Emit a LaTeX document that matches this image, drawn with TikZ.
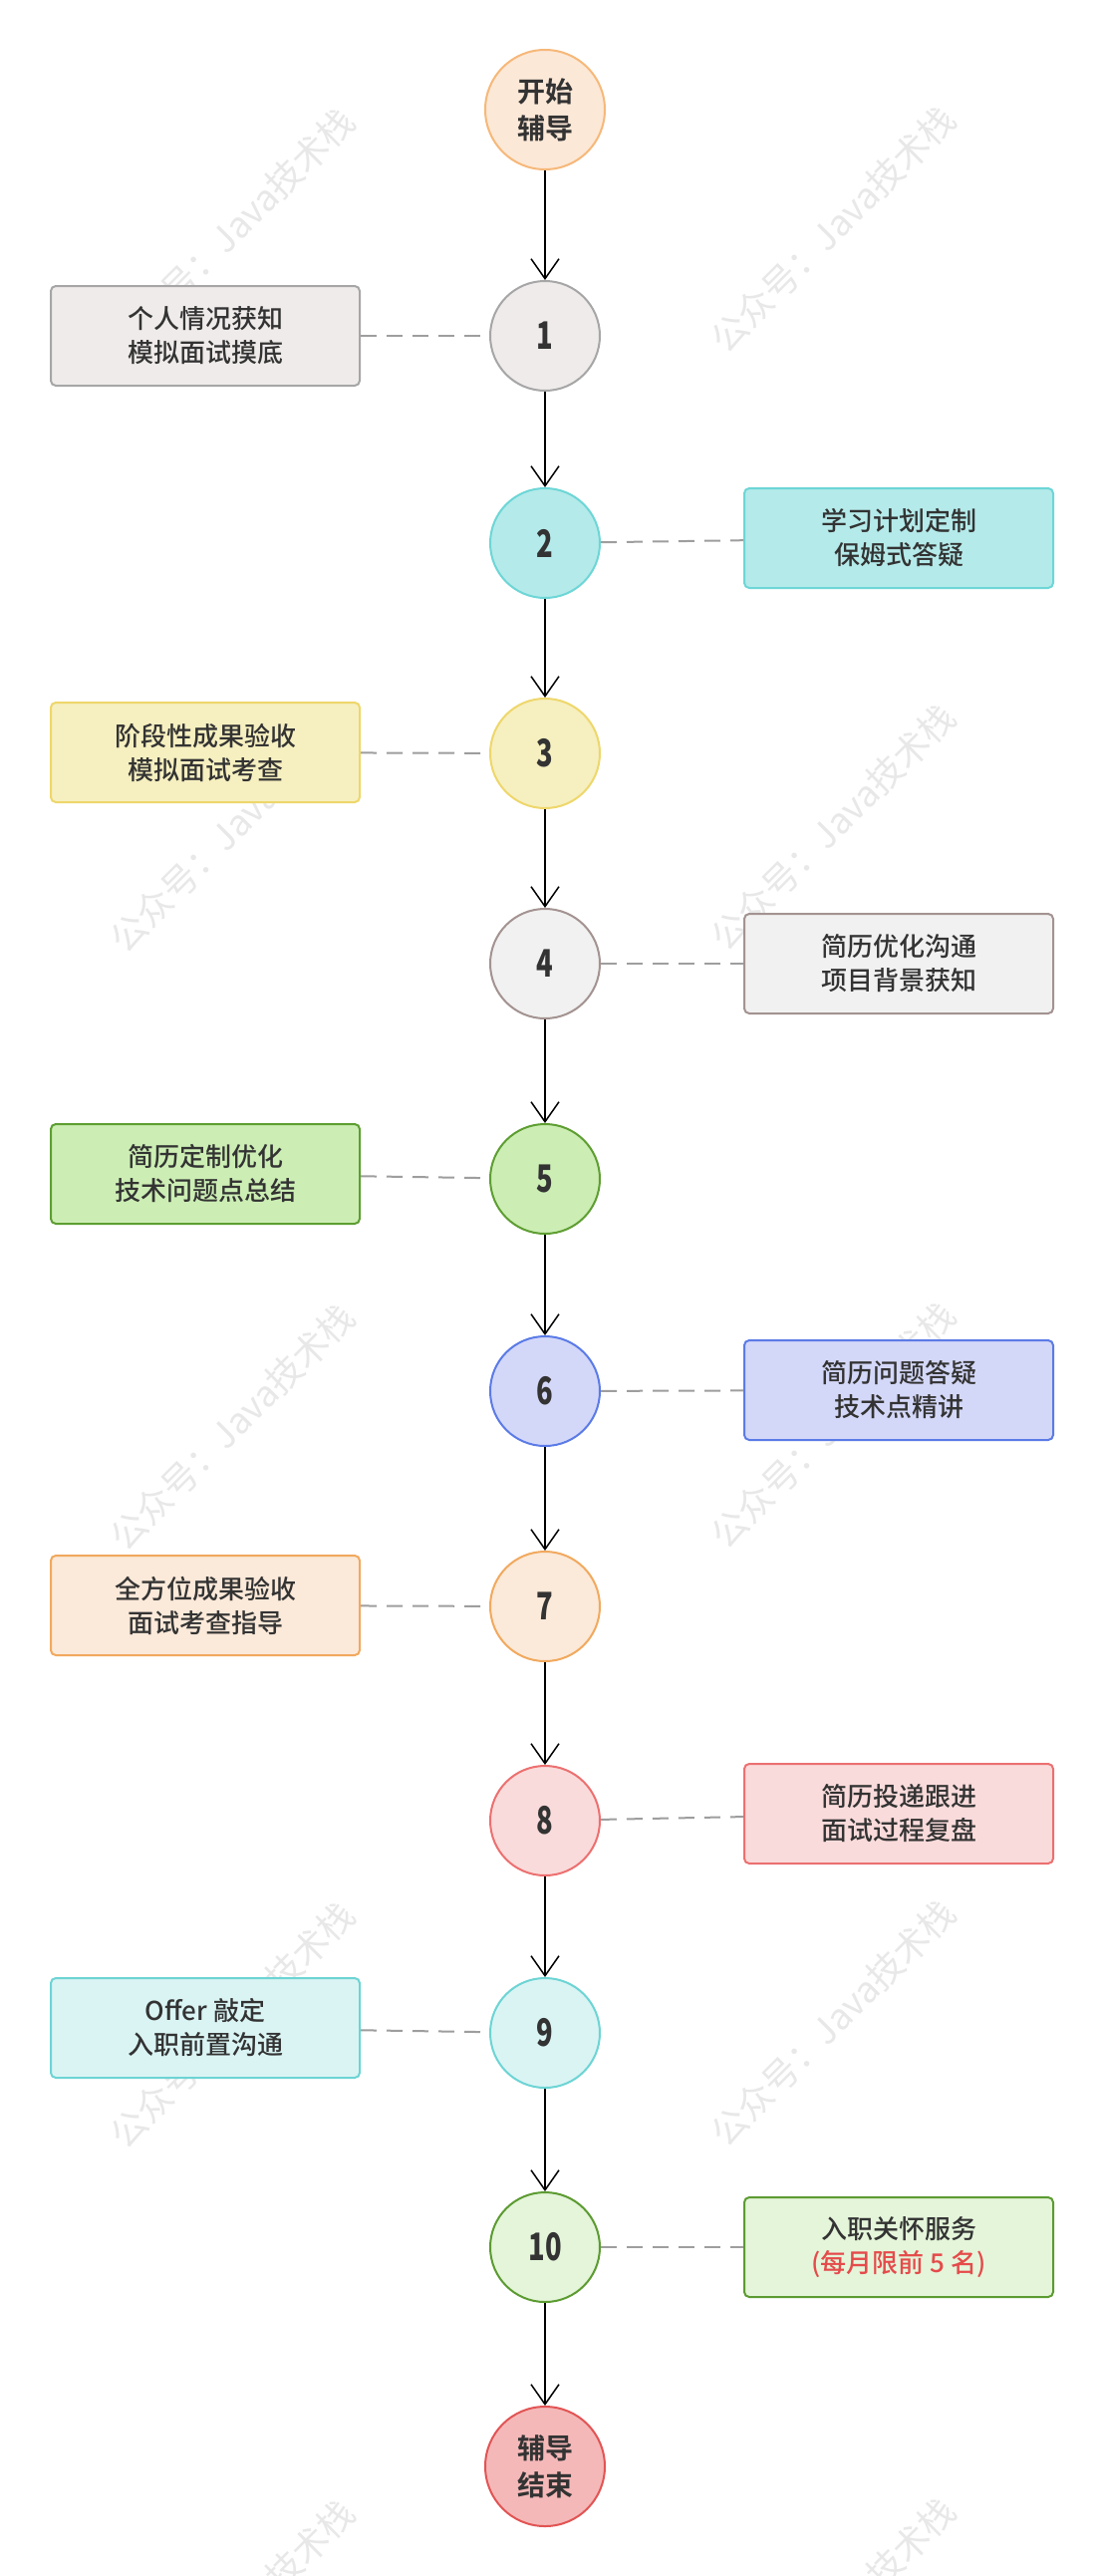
\documentclass[tikz,border=0pt]{standalone}
\usepackage{xcolor}
\usepackage{fontspec}
\setmainfont{Noto Sans CJK SC}[BoldFont={Noto Sans CJK SC Bold}]
\newfontfamily\numfont{Noto Sans CJK SC Black}[FakeStretch=0.72]
\newfontfamily\boxfont{Noto Sans CJK SC Medium}
\usepackage{tikz}
\usetikzlibrary{arrows.meta}

\definecolor{ink}{HTML}{333333}
\definecolor{wmark}{HTML}{E8E8E8}
\definecolor{dashgray}{HTML}{9E9E9E}
\definecolor{redtext}{HTML}{E54B4B}
\definecolor{startfill}{HTML}{FCE8D7}
\definecolor{startline}{HTML}{F6B879}
\definecolor{endfill}{HTML}{F5B8B8}
\definecolor{endline}{HTML}{E25454}
\definecolor{grayfill}{HTML}{EFEBEA}
\definecolor{grayline}{HTML}{A6A6A6}
\definecolor{tealfill}{HTML}{B5EAEA}
\definecolor{tealline}{HTML}{6DD6D6}
\definecolor{yellowfill}{HTML}{F6EFC0}
\definecolor{yellowline}{HTML}{EED76B}
\definecolor{stonefill}{HTML}{F1F1F1}
\definecolor{stoneline}{HTML}{A39391}
\definecolor{greenfill}{HTML}{CCEEB4}
\definecolor{greenline}{HTML}{5E9E32}
\definecolor{bluefill}{HTML}{D4D8F8}
\definecolor{blueline}{HTML}{5B7BE6}
\definecolor{orangefill}{HTML}{FBE9D9}
\definecolor{orangeline}{HTML}{F1A95E}
\definecolor{redfill}{HTML}{FADBDB}
\definecolor{redline}{HTML}{EC7070}
\definecolor{cyanfill}{HTML}{DAF4F4}
\definecolor{cyanline}{HTML}{6DD4D4}
\definecolor{limefill}{HTML}{E4F5DA}
\definecolor{limeline}{HTML}{5C9B31}

\tikzset{
	stage/.style = {circle, line width = 1pt, minimum size = 55pt, inner sep = 0pt,
		text = ink, font = \numfont\fontsize{19}{19}\selectfont},
	terminal/.style = {circle, line width = 1pt, minimum size = 60pt, inner sep = 0pt,
		text = ink, align = center, font = \bfseries\fontsize{14}{18.5}\selectfont},
	task/.style = {rectangle, rounded corners = 2.5pt, line width = 1pt,
		minimum width = 155pt, minimum height = 50pt, inner sep = 0pt,
		text = ink, align = center, font = \boxfont\fontsize{13}{17}\selectfont},
	flow/.style = {-{Straight Barb[length = 10pt, width = 14pt]}, line width = 0.75pt},
	link/.style = {dashgray, line width = 1pt, dash pattern = on 8pt off 5pt},
	wm/.style = {text = wmark, rotate = 45, font = \fontsize{18}{18}\selectfont}
}

\begin{document}
\begin{tikzpicture}[x = 0.5pt, y = -0.5pt]
	\def\cx{547};
	\def\lx{206};
	\def\rx{902};
	
	\useasboundingbox [fill = white] (0,0) rectangle (1103,2585);
	
	\foreach \row in {0,1,2,3,4} {
		\node [wm] at (233, 232 + 600*\row) {公众号：Java技术栈};
		\node [wm] at (836, 230 + 600*\row) {公众号：Java技术栈};
	}
	
	\node [terminal, fill = startfill, draw = startline] (start) at (\cx,110) {开始\\辅导};
	
	\node [stage, fill = grayfill, draw = grayline] (s1) at (\cx,337) {1};
	\node [stage, fill = tealfill, draw = tealline] (s2) at (\cx,545) {2};
	\node [stage, fill = yellowfill, draw = yellowline] (s3) at (\cx,756) {3};
	\node [stage, fill = stonefill, draw = stoneline] (s4) at (\cx,967) {4};
	\node [stage, fill = greenfill, draw = greenline] (s5) at (\cx,1183) {5};
	\node [stage, fill = bluefill, draw = blueline] (s6) at (\cx,1396) {6};
	\node [stage, fill = orangefill, draw = orangeline] (s7) at (\cx,1612) {7};
	\node [stage, fill = redfill, draw = redline] (s8) at (\cx,1827) {8};
	\node [stage, fill = cyanfill, draw = cyanline] (s9) at (\cx,2040) {9};
	\node [stage, fill = limefill, draw = limeline] (s10) at (\cx,2255) {10};
	
	\node [terminal, fill = endfill, draw = endline] (finish) at (\cx,2475) {辅导\\结束};
	
	\node [task, fill = grayfill, draw = grayline] (b1) at (\lx,337) {个人情况获知\\模拟面试摸底};
	\node [task, fill = tealfill, draw = tealline] (b2) at (\rx,540) {学习计划定制\\保姆式答疑};
	\node [task, fill = yellowfill, draw = yellowline] (b3) at (\lx,755) {阶段性成果验收\\模拟面试考查};
	\node [task, fill = stonefill, draw = stoneline] (b4) at (\rx,967) {简历优化沟通\\项目背景获知};
	\node [task, fill = greenfill, draw = greenline] (b5) at (\lx,1178) {简历定制优化\\技术问题点总结};
	\node [task, fill = bluefill, draw = blueline] (b6) at (\rx,1395) {简历问题答疑\\技术点精讲};
	\node [task, fill = orangefill, draw = orangeline] (b7) at (\lx,1611) {全方位成果验收\\面试考查指导};
	\node [task, fill = redfill, draw = redline] (b8) at (\rx,1820) {简历投递跟进\\面试过程复盘};
	\node [task, fill = cyanfill, draw = cyanline] (b9) at (\lx,2035) {Offer 敲定\\入职前置沟通};
	\node [task, fill = limefill, draw = limeline] (b10) at (\rx,2255) {入职关怀服务\\\textcolor{redtext}{(每月限前 5 名)}};
	
	\begin{scope}[flow]
		\draw (start) -- (s1);
		\draw (s1) -- (s2);
		\draw (s2) -- (s3);
		\draw (s3) -- (s4);
		\draw (s4) -- (s5);
		\draw (s5) -- (s6);
		\draw (s6) -- (s7);
		\draw (s7) -- (s8);
		\draw (s8) -- (s9);
		\draw (s9) -- (s10);
		\draw (s10) -- (finish);
	\end{scope}
	
	\begin{scope}[link]
		\draw (b1) -- (s1);
		\draw (s2) -- (b2);
		\draw (b3) -- (s3);
		\draw (s4) -- (b4);
		\draw (b5) -- (s5);
		\draw (s6) -- (b6);
		\draw (b7) -- (s7);
		\draw (s8) -- (b8);
		\draw (b9) -- (s9);
		\draw (s10) -- (b10);
	\end{scope}
\end{tikzpicture}
\end{document}
